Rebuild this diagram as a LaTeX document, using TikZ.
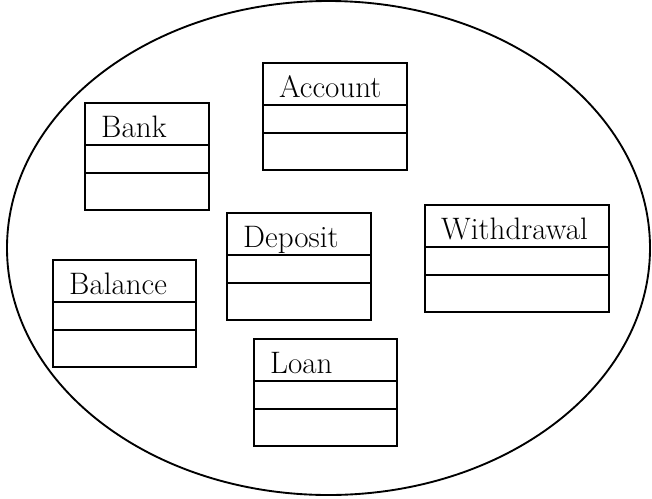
\documentclass[tikz,border=0pt]{standalone}
\usepackage{tikz}
\usetikzlibrary{positioning}

\tikzset{
    classbox/.style={line width=1.8pt},
    classname/.style={anchor=base west, inner sep=0pt, font=\fontsize{26.5}{30}\selectfont},
    system/.style={line width=1.6pt}
}

% Klasse: Name, Text, links, oben, Breite
\newcommand{\umlclass}[5]{
    \draw[classbox] (#3,#4) rectangle ++(#5,107);
    \draw[classbox] (#3,#4+42) -- ++(#5,0);
    \draw[classbox] (#3,#4+70) -- ++(#5,0);
    \node[classname] (#1) at (#3+16,#4+34) {#2};
}

\begin{document}
\begin{tikzpicture}[x=0.03cm, y=-0.03cm]
    \useasboundingbox (0,0) rectangle (652,498);

    % System
    \draw[system] (328.5,248) ellipse (321.5 and 247);

    % Klassen
    \umlclass{bank}{Bank}{85}{103}{124}
    \umlclass{account}{Account}{263}{63}{144}
    \umlclass{deposit}{Deposit}{227}{213}{144}
    \umlclass{withdrawal}{Withdrawal}{425}{205}{184}
    \umlclass{balance}{Balance}{53}{260}{143}
    \umlclass{loan}{Loan}{254}{339}{143}
\end{tikzpicture}
\end{document}
